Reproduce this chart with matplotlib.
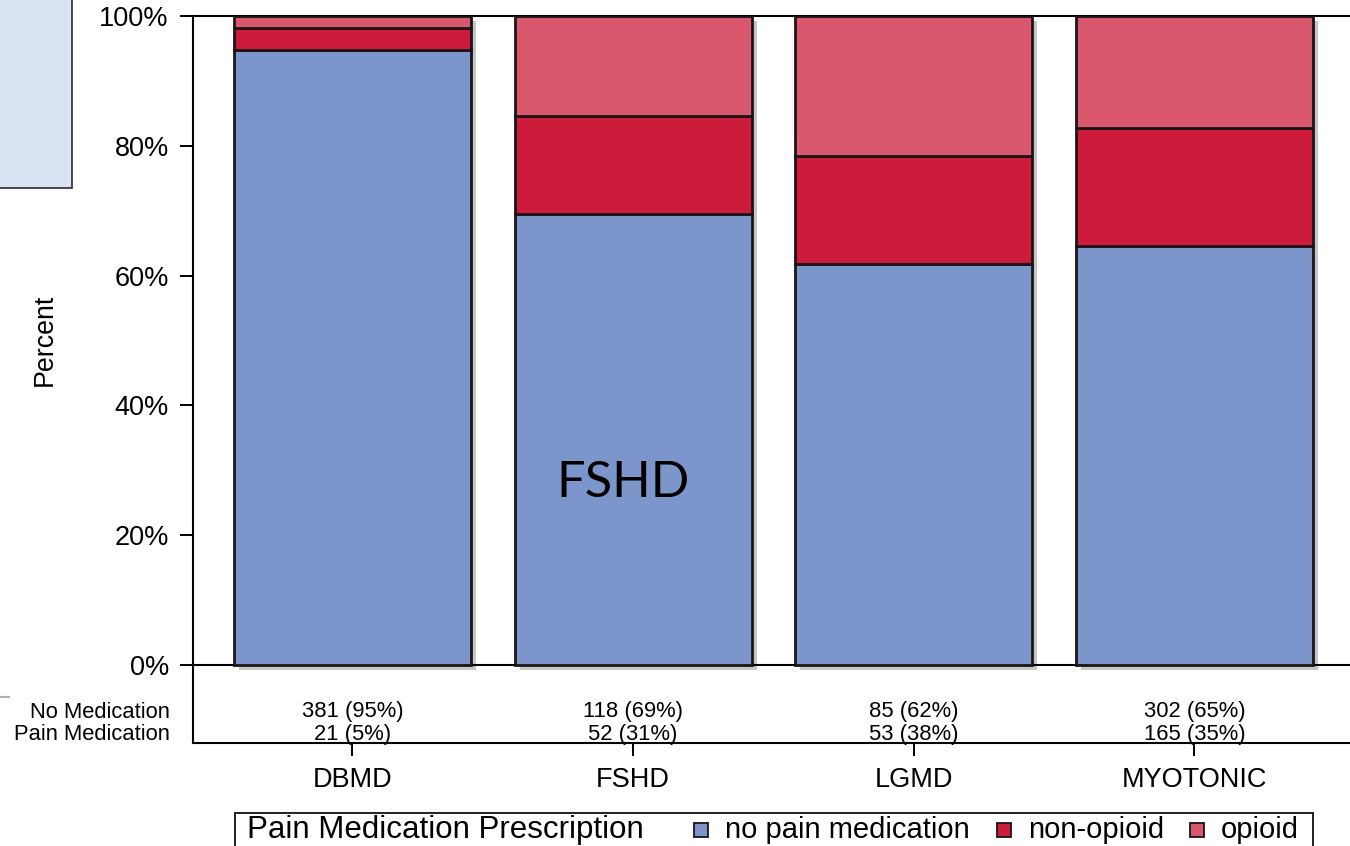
import matplotlib
matplotlib.use("Agg")
import matplotlib.pyplot as plt
import matplotlib.transforms as mtransforms
from matplotlib.patches import Rectangle
import numpy as np

plt.rcParams['font.family'] = ['Liberation Sans', 'DejaVu Sans']

# ---- data ----
categories = ["DBMD", "FSHD", "LGMD", "MYOTONIC"]
no_pain_med = [94.8, 69.5, 61.8, 64.6]
non_opioid = [3.4, 15.1, 16.6, 18.1]
opioid = [1.8, 15.4, 21.6, 17.3]
no_med_counts = ["381 (95%)", "118 (69%)", "85 (62%)", "302 (65%)"]
pain_med_counts = ["21 (5%)", "52 (31%)", "53 (38%)", "165 (35%)"]
row_labels = ["No Medication", "Pain Medication"]
series_labels = ["no pain medication", "non-opioid", "opioid"]
legend_title = "Pain Medication Prescription"
yticks = [0, 20, 40, 60, 80, 100]
ytick_labels = ["0%", "20%", "40%", "60%", "80%", "100%"]

colors = ["#7C95CB", "#CC1B3B", "#DA586E"]
edge = "#1c1416"

W, H = 1350, 846
fig = plt.figure(figsize=(W / 100, H / 100), dpi=100)

def fx(px):
    return px / W

def fy(py):
    return 1 - py / H

# top-left decorative box
fig.patches.append(Rectangle((fx(-5), fy(188)), fx(77), 200 / H, transform=fig.transFigure,
                             facecolor="#DAE3F3", edgecolor="#3a3a3a", lw=1.3, zorder=0))
# small grey mark at left
fig.add_artist(plt.Line2D([0, fx(9)], [fy(697), fy(697)], transform=fig.transFigure,
                          color="#b0b0b0", lw=1.5))

ax_left, ax_top, ax_bottom = 193, 16, 743
ax = fig.add_axes([fx(ax_left), fy(ax_bottom), fx(W - ax_left + 5), (ax_bottom - ax_top) / H])

x = np.arange(len(categories))
width = 0.844
ymin = -(ax_bottom - 665) / (665 - ax_top) * 100
ax.set_ylim(ymin, 100)
ax.set_xlim(-0.568, 3.572)

# shadows
totals = np.array(no_pain_med) + np.array(non_opioid) + np.array(opioid)
shadow = ax.bar(x, totals, width=width, color="#c6c6c6", lw=0, zorder=1)
off = mtransforms.ScaledTranslation(5 / 100, -5 / 100, fig.dpi_scale_trans)
for p in shadow:
    p.set_transform(ax.transData + off)

bottom = np.zeros(len(categories))
for vals, c in zip([no_pain_med, non_opioid, opioid], colors):
    ax.bar(x, vals, bottom=bottom, width=width, color=c, edgecolor=edge, lw=2.0, zorder=3)
    bottom = bottom + np.array(vals)

ax.axhline(0, color="black", lw=1.5, zorder=2)

ax.set_yticks(yticks)
ax.set_yticklabels(ytick_labels)
ax.set_xticks(x)
ax.set_xticklabels(categories)
ax.tick_params(axis="y", length=9.4, width=1.4, pad=8, labelsize=19.5)
ax.tick_params(axis="x", length=9, width=1.4, pad=8, labelsize=19.5)
for s in ["left", "top", "bottom"]:
    ax.spines[s].set_linewidth(1.5)
ax.spines["right"].set_visible(False)

# table rows
y_row1 = -(712 - 665) / (665 - ax_top) * 100
y_row2 = -(734 - 665) / (665 - ax_top) * 100
btr = mtransforms.blended_transform_factory(fig.transFigure, ax.transData)
ax.text(fx(170), y_row1, row_labels[0], transform=btr, ha="right", va="center", fontsize=15.8)
ax.text(fx(170), y_row2, row_labels[1], transform=btr, ha="right", va="center", fontsize=15.8)
for xi, a, b in zip(x, no_med_counts, pain_med_counts):
    ax.text(xi, y_row1, a, ha="center", va="center", fontsize=15.8)
    ax.text(xi, y_row2, b, ha="center", va="center", fontsize=15.8)

fig.text(fx(45), fy(340), "Percent", rotation=90, ha="center", va="center", fontsize=19.3)

# FSHD annotation
fig.text(fx(623), fy(483), "FSHD", ha="center", va="center", fontsize=36.5, family=["Lato", "DejaVu Sans"])

# legend box
fig.patches.append(Rectangle((fx(235), fy(850)), fx(1313 - 235), 37 / H, transform=fig.transFigure,
                             facecolor="white", edgecolor="#202020", lw=1.4, zorder=5))
fig.text(fx(247), fy(830), legend_title, ha="left", va="center", fontsize=22.5, zorder=6)
sq_x = [694, 997, 1190]
txt_x = [725, 1028, 1221]
for sx, tx, c, lab in zip(sq_x, txt_x, colors, series_labels):
    fig.patches.append(Rectangle((fx(sx), fy(837)), fx(14), 14 / H, transform=fig.transFigure,
                                 facecolor=c, edgecolor=edge, lw=1.3, zorder=6))
    fig.text(fx(tx), fy(830), lab, ha="left", va="center", fontsize=21, zorder=6)

fig.savefig("out.png", dpi=100)
